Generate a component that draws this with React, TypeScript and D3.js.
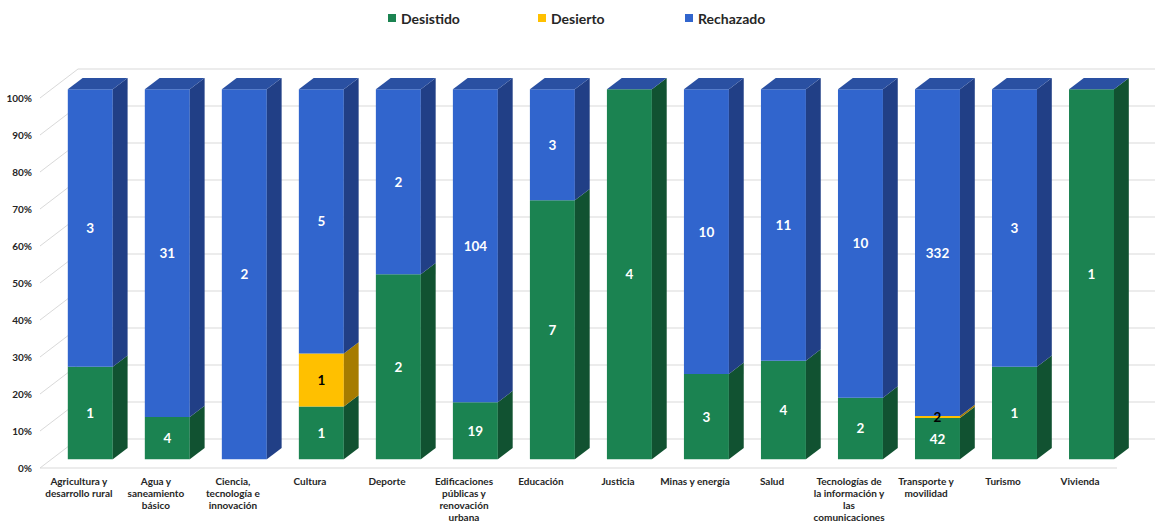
import * as d3 from 'd3';

const CATEGORIES = [
  'Agricultura y desarrollo rural',
  'Agua y saneamiento básico',
  'Ciencia, tecnología e innovación',
  'Cultura',
  'Deporte',
  'Edificaciones públicas y renovación urbana',
  'Educación',
  'Justicia',
  'Minas y energía',
  'Salud',
  'Tecnologías de la información y las comunicaciones',
  'Transporte y movilidad',
  'Turismo',
  'Vivienda',
];
// line breaks as they appear under the axis
const CAT_LINES = [
  ['Agricultura y', 'desarrollo rural'],
  ['Agua y', 'saneamiento', 'básico'],
  ['Ciencia,', 'tecnología e', 'innovación'],
  ['Cultura'],
  ['Deporte'],
  ['Edificaciones', 'públicas y', 'renovación', 'urbana'],
  ['Educación'],
  ['Justicia'],
  ['Minas y energía'],
  ['Salud'],
  ['Tecnologías de', 'la información y', 'las', 'comunicaciones'],
  ['Transporte y', 'movilidad'],
  ['Turismo'],
  ['Vivienda'],
];
const DESISTIDO = [1, 4, 0, 1, 2, 19, 7, 4, 3, 4, 2, 42, 1, 1];
const DESIERTO = [0, 0, 0, 1, 0, 0, 0, 0, 0, 0, 0, 2, 0, 0];
const RECHAZADO = [3, 31, 2, 5, 2, 104, 3, 0, 10, 11, 10, 332, 3, 0];
const Y_TICKS = [0, 10, 20, 30, 40, 50, 60, 70, 80, 90, 100];

const SERIES = [
  { name: 'Desistido', values: DESISTIDO, front: '#1b8351', side: '#115231', label: '#fff' },
  { name: 'Desierto', values: DESIERTO, front: '#ffc000', side: '#a67c00', label: '#000' },
  { name: 'Rechazado', values: RECHAZADO, front: '#3165cd', side: '#213f86', label: '#fff' },
];
const TOP_COLOR = '#2a50a2';

const W = 1159, H = 524;
const FLOOR_Y = 468, TOP_Y = 98;
const DDX = 38, DDY = -29; // offset front floor edge -> back wall
const T0 = 0.3, T1 = 0.69; // bar depth (front / back)
const FONT = 'Lato, "Open Sans", sans-serif';

const x = d3.scaleBand<number>()
  .domain(d3.range(CATEGORIES.length))
  .range([41, 1118])
  .paddingInner(0.416)
  .paddingOuter(0.2);
const y = d3.scaleLinear().domain([0, 1]).range([FLOOR_Y, TOP_Y]);

const P = (px: number, frac: number, t: number) => [px + DDX * t, y(frac) + DDY * t];
const poly = (pts: number[][]) => pts.map(p => p.join(',')).join(' ');

export default function App() {
  const bw = x.bandwidth();
  const wallL = 40, wallR = 1117;

  return (
    <svg width={W} height={H} style={{ position: 'absolute', left: 0, top: 0, background: '#fff' }} fontFamily={FONT}>
      {/* legend */}
      {SERIES.map((s, i) => {
        const lx = [388, 538, 685][i];
        return (
          <g key={s.name}>
            <rect x={lx} y={14} width={8} height={8} fill={s.front} />
            <text x={lx + 13} y={23.5} fontSize={14} fontWeight={700} fill="#262626">{s.name}</text>
          </g>
        );
      })}

      {/* walls / gridlines */}
      {Y_TICKS.map(t => {
        const f = t / 100;
        return (
          <g key={t} stroke="#d9d9d9" strokeWidth={1} fill="none">
            <line x1={wallL} y1={y(f)} x2={wallL + DDX} y2={y(f) + DDY} />
            <line x1={wallL + DDX} y1={y(f) + DDY} x2={wallR + DDX} y2={y(f) + DDY} />
          </g>
        );
      })}
      <line x1={wallL} y1={FLOOR_Y} x2={wallR} y2={FLOOR_Y} stroke="#d9d9d9" />

      {Y_TICKS.map(t => (
        <text key={t} x={32} y={y(t / 100) + 3.5} textAnchor="end" fontSize={10} fontWeight={700} fill="#262626">{t}%</text>
      ))}

      {/* bars */}
      {CATEGORIES.map((c, i) => {
        const x0 = x(i)!;
        const total = d3.sum(SERIES, s => s.values[i]);
        let acc = 0;
        const segs = SERIES.map(s => {
          const a = acc / total;
          acc += s.values[i];
          return { s, v: s.values[i], a, b: acc / total };
        });
        return (
          <g key={c}>
            {segs.filter(g => g.v > 0).map(g => (
              <g key={g.s.name}>
                <polygon points={poly([P(x0, g.a, T0), P(x0 + bw, g.a, T0), P(x0 + bw, g.b, T0), P(x0, g.b, T0)])} fill={g.s.front} />
                <polygon points={poly([P(x0 + bw, g.a, T0), P(x0 + bw, g.a, T1), P(x0 + bw, g.b, T1), P(x0 + bw, g.b, T0)])} fill={g.s.side} />
              </g>
            ))}
            <polygon points={poly([P(x0, 1, T0), P(x0 + bw, 1, T0), P(x0 + bw, 1, T1), P(x0, 1, T1)])} fill={TOP_COLOR} />
            {segs.filter(g => g.v > 0).map(g => {
              const [cx] = P(x0 + bw / 2, 0, T0);
              const [, cy] = P(0, (g.a + g.b) / 2, T0);
              return (
                <text key={'l' + g.s.name} x={cx} y={cy + 5} textAnchor="middle" fontSize={13.5} fontWeight={700} fill={g.s.label}>{g.v}</text>
              );
            })}
            {CAT_LINES[i].map((ln, k) => (
              <text key={k} x={x0 + bw / 2} y={485 + k * 12.1} textAnchor="middle" fontSize={10} fontWeight={700} fill="#262626">{ln}</text>
            ))}
          </g>
        );
      })}
    </svg>
  );
}
